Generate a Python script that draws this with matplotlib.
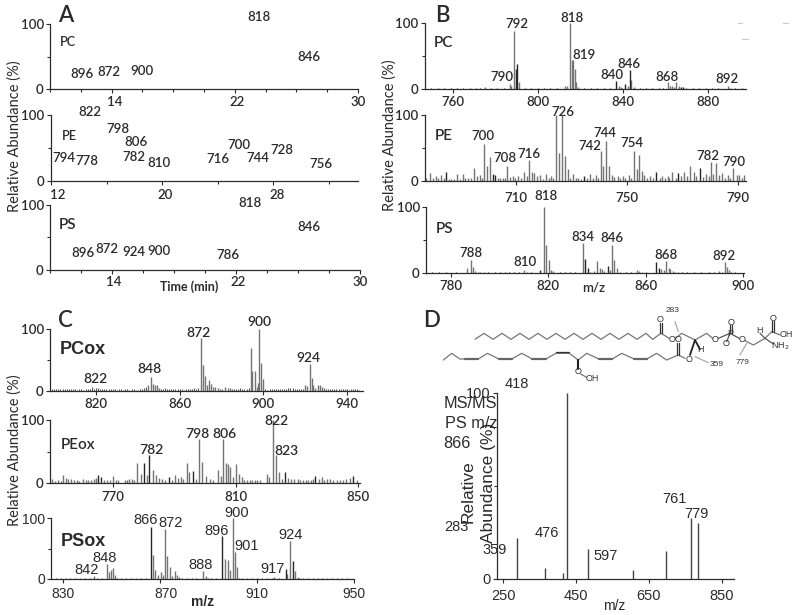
import matplotlib
matplotlib.use("Agg")
import matplotlib.pyplot as plt
from matplotlib.transforms import ScaledTranslation

W, H = 800, 615
CAL = "Lato"
ARI = "Liberation Sans"
INK = "#2b2b2b"
GRAY = "#747474"
DARK = "#262626"
LBL_W = "semibold"

# ---------- Panel A: retention-time labels (m/z, time, abundance) ----------
A1_labels = ["818", "846", "896", "872", "900"]
A1_time = [23.6, 26.8, 12.1, 13.8, 16.0]
A1_abund = [111, 49, 23, 26, 28]
A2_labels = ["822", "798", "806", "782", "810", "794", "778", "716", "700", "744", "728", "756"]
A2_time = [14.8, 16.8, 18.1, 18.0, 19.8, 12.9, 14.6, 24.0, 25.5, 26.9, 28.6, 31.4]
A2_abund = [105, 79, 59, 36, 27, 35, 30, 33, 55, 35, 47, 25]
A3_labels = ["818", "846", "896", "872", "924", "900", "786"]
A3_time = [22.9, 26.7, 12.1, 13.7, 15.4, 17.0, 21.5]
A3_abund = [103, 66, 26, 32, 28, 29, 23]

# ---------- Panel B ----------
B1_mz = [775.3, 786.9, 787.6, 789.0, 791.1, 812.8, 813.8, 815.2, 816.0, 816.6, 817.4, 818.2, 819.1,
         838.2, 839.1, 839.7, 842.3, 844.1, 845.1, 861.3, 862.3, 863.2, 864.2, 865.3, 866.4, 889.5, 890.5]
B1_ab = [3, 8, 5, 88, 11, 4, 5, 100, 44, 44, 30, 10, 3, 5, 3, 2, 4, 14, 3, 10, 5, 4, 3, 10, 5, 4, 2]
B1_k_mz = [789.7, 790.3, 836.9, 841.3, 843.2, 867.3, 868.2]
B1_k_ab = [30, 38, 12, 7, 29, 3, 3]
B1_noise = [750, 753, 756, 759, 762, 765, 768, 771, 773, 778, 781, 784, 794, 797, 800, 803, 806, 809,
            822, 825, 828, 831, 834, 848, 851, 854, 857, 859, 870, 873, 876, 879, 882, 885, 893, 896]
B1_labels = ["792", "818", "819", "790", "840", "846", "868", "892"]
B1_lx = [790.3, 816.3, 821.7, 783.0, 835.0, 842.9, 860.9, 888.9]
B1_ly = [98, 108, 52, 18, 21, 38, 18, 15]

B2_mz = [677.5, 678.7, 679.9, 680.9, 681.8, 682.9, 683.7, 685.7, 686.5, 687.5, 688.7, 689.5, 690.7, 691.4,
         692.5, 693.7, 694.8, 695.7, 696.7, 697.5, 698.5, 699.4, 700.5, 703.4, 704.2, 705.1, 705.8, 706.8,
         707.7, 708.7, 709.6, 710.6, 711.7, 712.8, 713.7, 714.6, 715.6, 716.5, 717.3, 718.5, 719.5, 720.7,
         721.9, 722.6, 723.4, 724.4, 725.5, 726.4, 727.5, 728.6, 729.4, 730.5, 731.5, 732.4, 733.5, 735.7,
         736.6, 737.7, 738.9, 739.6, 740.5, 741.4, 742.4, 743.6, 744.4, 745.4, 746.6, 747.6, 748.5, 749.4,
         750.6, 751.6, 752.4, 753.5, 754.4, 755.3, 756.3, 757.1, 758.3, 759.3, 761.9, 762.6, 763.7, 764.7,
         765.3, 766.4, 767.6, 769.4, 770.6, 771.6, 772.7, 774.1, 775.1, 777.6, 778.7, 779.5, 780.4, 781.2,
         782.3, 783.3, 784.5, 785.4, 786.4, 787.2, 788.4, 789.6, 790.6, 791.4, 792.4]
B2_ab = [5, 12, 5, 7, 5, 9, 5, 3, 3, 3, 10, 3, 10, 5,
         5, 5, 20, 7, 9, 5, 56, 22, 36, 4, 5, 5, 4, 23,
         6, 8, 4, 7, 4, 13, 7, 32, 13, 12, 7, 9, 3, 10,
         5, 8, 5, 100, 42, 100, 38, 18, 5, 11, 5, 5, 3, 4,
         11, 5, 9, 4, 45, 22, 60, 23, 9, 6, 8, 5, 8, 4,
         9, 5, 46, 18, 39, 15, 9, 5, 8, 5, 4, 8, 4, 7,
         5, 14, 4, 7, 14, 7, 22, 14, 7, 6, 10, 8, 29, 10,
         28, 9, 12, 5, 9, 5, 20, 9, 9, 5, 9]
B2_k_mz = [684.7, 701.5, 702.4, 734.6, 760.5, 768.4, 776.4]
B2_k_ab = [14, 10, 9, 7, 13, 12, 20]
B2_labels = ["726", "700", "708", "716", "742", "744", "754", "782", "790"]
B2_lx = [726.7, 697.9, 706.0, 714.6, 736.4, 741.8, 751.7, 779.4, 788.8]
B2_ly = [104, 68, 35, 41, 53, 72, 57, 38, 29]

B3_mz = [786.4, 788.4, 789.0, 790.0, 791.0, 792.0, 793.4, 810.1, 811.2, 818.4, 819.0, 820.3, 821.1, 821.9,
         834.2, 837.3, 838.6, 840.1, 841.1, 841.9, 842.9, 845.5, 846.3, 847.0, 848.2, 849.3, 856.4, 857.4,
         858.4, 866.3, 867.4, 868.5, 869.5, 870.1, 871.1, 872.1, 873.2, 890.4, 891.4, 892.7, 893.7, 894.5, 895.3]
B3_ab = [7, 20, 9, 3, 2, 2, 1, 4, 2, 100, 43, 20, 5, 3,
         45, 2, 3, 18, 8, 6, 3, 5, 42, 20, 7, 2, 5, 3,
         2, 6, 5, 18, 8, 6, 3, 2, 1, 3, 2, 16, 9, 5, 2]
B3_k_mz = [816.4, 835.3, 836.2, 844.4, 864.1, 865.5]
B3_k_ab = [5, 21, 7, 11, 16, 8]
B3_noise = [772, 775, 778, 782, 795, 798, 800, 802, 804, 806, 808, 813, 825, 827, 829, 831,
            852, 854, 860, 875, 877, 880, 883, 886, 888, 897]
B3_labels = ["818", "788", "810", "834", "846", "868", "892"]
B3_lx = [819.2, 788.3, 810.5, 834.1, 846.2, 868.4, 892.4]
B3_ly = [116, 30, 16, 55, 53, 28, 26]

# ---------- Panel C ----------
C1_mz = [845.0, 846.2, 847.1, 848.1, 849.0, 850.0, 870.1, 871.0, 872.0, 873.1, 874.1, 875.0, 876.0, 876.9,
         878.2, 879.3, 880.4, 881.9, 883.0, 884.1, 885.1, 894.0, 894.8, 896.1, 897.0, 897.7, 898.1, 899.1,
         900.1, 920.0, 920.8, 922.4, 923.2, 924.0, 924.8, 926.4, 927.3, 928.3, 929.2]
C1_ab = [10, 23, 11, 10, 9, 5, 85, 42, 24, 9, 18, 12, 7, 6,
         5, 4, 4, 6, 5, 5, 4, 70, 33, 32, 7, 13, 100, 45,
         19, 10, 8, 43, 21, 10, 5, 10, 9, 7, 5]
C1_noise_mz = [799, 800, 801, 802, 803, 804, 805, 806, 807, 808, 809, 810, 811, 812, 813, 814, 815, 816,
               817, 818, 819, 820, 821, 822, 823, 824, 825, 826, 827, 828, 829, 830, 831, 832, 833, 834,
               835, 836, 837, 838, 839, 840, 841, 842, 843, 844, 851, 852, 853, 854, 855, 856, 857, 858,
               859, 860, 861, 862, 863, 864, 865, 866, 867, 868, 869, 886, 887, 888, 889, 890, 891, 892,
               893, 901, 902, 903, 904, 905, 906, 907, 908, 909, 910, 911, 912, 913, 914, 915, 916, 917,
               918, 919, 930, 931, 932, 933, 934, 935, 936, 937, 938, 939, 940, 941, 942, 943, 944, 945, 946]
C1_noise_ab = [3, 4, 3, 3, 4, 3, 4, 3, 3, 4, 3, 3, 2, 3, 3, 2, 4, 3, 3, 7, 3, 5, 5, 4, 3, 3, 4, 4,
               3, 4, 3, 2, 4, 4, 2, 3, 3, 2, 3, 3, 2, 2, 3, 3, 5, 7, 4, 4, 5, 4, 3, 3, 4, 3,
               3, 4, 4, 2, 3, 3, 4, 3, 5, 4, 5, 4, 3, 3, 5, 3, 3, 4,
               5, 3, 2, 3, 3, 3, 3, 3, 4, 3, 3, 3, 5, 5, 5, 4, 3, 3,
               3, 4, 4, 3, 3, 3, 3, 4, 3, 3, 3, 3, 3, 2, 3, 3, 3, 3, 2]
C1_labels = ["822", "848", "872", "900", "924"]
C1_lx = [819.9, 845.8, 868.9, 898.1, 921.6]
C1_ly = [19, 35, 93, 112, 54]

C2_mz = [750.0, 751.1, 752.2, 753.0, 753.8, 754.6, 755.5, 756.3, 757.2, 758.2, 759.0, 760.2, 761.1, 762.0,
         762.8, 763.7, 764.5, 767.2, 768.0, 768.9, 769.9, 770.9, 771.7, 773.9, 774.7, 775.4, 776.3, 776.9,
         777.9, 779.0, 781.1, 783.0, 784.1, 785.0, 785.9, 786.9, 789.1, 790.2, 791.1, 792.1, 792.9, 794.0,
         794.9, 797.0, 798.0, 799.0, 800.2, 801.6, 802.7, 804.1, 805.1, 806.0, 806.8, 807.6, 808.2, 809.0,
         810.1, 811.0, 811.9, 812.7, 813.8, 814.6, 815.4, 816.3, 817.1, 817.9, 820.1, 820.9, 822.1, 823.0,
         824.2, 825.2, 827.0, 828.0, 829.1, 830.2, 831.0, 831.9, 832.8, 833.6, 834.5, 835.1, 837.1, 838.0,
         838.8, 839.9, 840.7, 841.8, 842.9, 843.9, 845.0, 846.1, 847.2, 849.4]
C2_ab = [6, 3, 4, 3, 12, 8, 7, 6, 5, 5, 3, 6, 5, 5,
         5, 6, 8, 5, 4, 4, 11, 5, 4, 5, 5, 6, 6, 4,
         31, 14, 13, 20, 12, 8, 6, 4, 5, 12, 8, 10, 6, 31,
         18, 7, 70, 33, 11, 7, 4, 21, 11, 70, 32, 30, 26, 9,
         30, 14, 9, 5, 5, 5, 4, 4, 5, 5, 15, 9, 100, 45,
         18, 7, 8, 6, 6, 7, 5, 5, 5, 5, 5, 6, 7, 10,
         5, 7, 6, 4, 5, 5, 4, 6, 8, 4]
C2_k_mz = [765.2, 766.1, 780.1, 781.9, 788.2, 796.2, 826.2, 836.0, 848.3]
C2_k_ab = [12, 10, 31, 44, 10, 19, 18, 11, 11]
C2_labels = ["782", "798", "806", "822", "823"]
C2_lx = [782.4, 797.5, 806.3, 823.4, 826.6]
C2_ly = [52, 78, 78, 98, 51]

C3_mz = [842.9, 848.0, 848.9, 849.8, 850.4, 851.3, 852.1, 867.2, 868.0, 869.1, 870.2, 871.2, 872.1, 872.9,
         873.9, 874.9, 876.0, 876.8, 877.7, 887.9, 888.8, 889.8, 896.9, 897.9, 898.7, 900.0, 900.9, 901.9,
         902.7, 917.2, 922.5, 923.8, 925.7, 926.8, 927.7]
C3_ab = [5, 24, 11, 15, 18, 6, 2, 40, 14, 6, 11, 7, 82, 38,
         19, 5, 13, 7, 3, 13, 5, 2, 33, 31, 15, 100, 45, 19,
         2, 3, 8, 63, 13, 4, 2]
C3_k_mz = [866.2, 895.7, 921.8, 924.9]
C3_k_ab = [85, 70, 16, 30]
C3_noise = [827, 829, 831, 833, 835, 837, 839, 841, 844, 846, 854, 856, 858, 860, 862, 864, 879, 881, 883,
            885, 891, 893, 904, 906, 908, 910, 912, 914, 916, 919, 929, 931, 933, 935, 937, 939, 941, 943, 945, 947]
C3_labels = ["842", "848", "866", "872", "896", "900", "901", "888", "917", "924"]
C3_lx = [839.6, 847.0, 864.0, 874.4, 893.2, 901.7, 905.8, 886.9, 916.5, 923.7]
C3_ly = [14, 34, 96, 91, 78, 108, 54, 23, 16, 72]

# ---------- Panel D ----------
D_mz = [289, 365, 414, 424, 483, 605, 698, 766, 784]
D_ab = [22, 6, 3, 100, 16, 5, 15, 33, 30]
D_labels = ["418", "283", "359", "476", "597", "761", "779"]
D_lx = [287.7, 122.6, 228.0, 370.0, 530.6, 718.5, 779.0]
D_ly = [105, 28, 15.6, 24.7, 12.5, 43, 35]

fig = plt.figure(figsize=(W / 100, H / 100), dpi=100, facecolor="white")


def make_ax(left, right, top, bottom, xlim, major, minor=None, family=CAL, fs=9.5, weight=LBL_W,
            xpad=2.0, xshift=None):
    ax = fig.add_axes([left / W, 1 - bottom / H, (right - left) / W, (bottom - top) / H])
    ax.set_xlim(*xlim)
    ax.set_ylim(0, 100)
    ax.patch.set_alpha(0)
    for s in ("top", "right"):
        ax.spines[s].set_visible(False)
    for s in ("left", "bottom"):
        ax.spines[s].set_color(INK)
        ax.spines[s].set_linewidth(0.9)
    ax.set_yticks([0, 100])
    ax.set_yticks([50], minor=True)
    ax.set_xticks(major)
    if minor is not None:
        ax.set_xticks(minor, minor=True)
    ax.tick_params(axis="both", which="major", length=3, width=0.8, color=INK, pad=1.5)
    ax.tick_params(axis="both", which="minor", length=2, width=0.8, color=INK)
    ax.tick_params(axis="x", which="major", pad=xpad)
    for lab in ax.get_xticklabels() + ax.get_yticklabels():
        lab.set_fontfamily(family)
        lab.set_fontsize(fs)
        lab.set_fontweight(weight)
        lab.set_color(INK)
    if xshift is not None:
        for lab, dx in zip(ax.get_xticklabels(), xshift):
            lab.set_transform(lab.get_transform() + ScaledTranslation(dx / 100, 0, fig.dpi_scale_trans))
    return ax


def peaks(ax, mz, ab, color=GRAY, lw=1.0):
    ax.vlines(mz, 0, ab, colors=color, linewidth=lw)


def labels(ax, txt, xs, ys, family=CAL, fs=9.5, weight=LBL_W):
    for t, x, y in zip(txt, xs, ys):
        ax.text(x, y, t, ha="center", va="center", family=family, fontsize=fs, weight=weight,
                color=INK, clip_on=False)


def ptext(px, py, s, fs=9.5, family=CAL, weight=LBL_W, rotation=0, color=INK):
    fig.text(px / W, 1 - py / H, s, ha="center", va="center", fontsize=fs, family=family,
             weight=weight, rotation=rotation, color=color)


# Panel A
tA13 = [14, 22, 30]
mA13 = [10, 12, 16, 18, 20, 24, 26, 28]
axA1 = make_ax(50, 358, 24, 89, (10, 30), tA13, mA13, xpad=1.8, xshift=[3, 2, 0])
labels(axA1, A1_labels, A1_time, A1_abund)
axA2 = make_ax(51, 358, 115.5, 180.5, (12, 34.1), [12, 20, 28], [16, 24, 32], xpad=2.9, xshift=[7, 3, 4])
labels(axA2, A2_labels, A2_time, A2_abund)
axA3 = make_ax(50, 360, 205, 270, (10, 30), tA13, mA13, xpad=1.1, xshift=[2, 2, 0])
labels(axA3, A3_labels, A3_time, A3_abund)

# Panel B
axB1 = make_ax(425, 746, 23, 89, (747, 898), [760, 800, 840, 880], xpad=1.8)
peaks(axB1, B1_noise, [1] * len(B1_noise), DARK, 0.8)
peaks(axB1, B1_mz, B1_ab)
peaks(axB1, B1_k_mz, B1_k_ab, DARK)
labels(axB1, B1_labels, B1_lx, B1_ly)
axB2 = make_ax(425, 746, 115, 181, (677, 793), [710, 750, 790], xpad=4.7)
peaks(axB2, B2_mz, B2_ab)
peaks(axB2, B2_k_mz, B2_k_ab, DARK)
labels(axB2, B2_labels, B2_lx, B2_ly)
axB3 = make_ax(426, 744, 207, 273, (769.7, 900.5), [780, 820, 860, 900], xpad=1.8)
peaks(axB3, B3_noise, [1] * len(B3_noise), DARK, 0.8)
peaks(axB3, B3_mz, B3_ab)
peaks(axB3, B3_k_mz, B3_k_ab, DARK)
labels(axB3, B3_labels, B3_lx, B3_ly)

# Panel C
axC1 = make_ax(50, 363, 329, 391, (798, 947.7), [820, 860, 900, 940], xpad=1.8)
peaks(axC1, C1_noise_mz, C1_noise_ab, "#555555", 0.8)
peaks(axC1, C1_mz, C1_ab)
labels(axC1, C1_labels, C1_lx, C1_ly, fs=10)
axC2 = make_ax(50, 360, 420, 483, (749.5, 850.5), [770, 810, 850], xpad=2.5)
peaks(axC2, C2_mz, C2_ab)
peaks(axC2, C2_k_mz, C2_k_ab, DARK)
labels(axC2, C2_labels, C2_lx, C2_ly, fs=10)
axC3 = make_ax(51, 354, 518, 579, (825, 950), [830, 870, 910, 950], family=ARI, fs=10, weight="normal",
               xpad=2.5, xshift=[0, 6, 0, 0])
peaks(axC3, C3_noise, [1.5] * len(C3_noise), "#555555", 0.8)
peaks(axC3, C3_mz, C3_ab)
peaks(axC3, C3_k_mz, C3_k_ab, DARK)
labels(axC3, C3_labels, C3_lx, C3_ly, family=ARI, fs=10.5, weight="normal")

# Panel D
axD = make_ax(497, 734, 393, 579, (233.5, 883), [250, 450, 650, 850], family=ARI, fs=10.5, weight="normal",
              xpad=4)
peaks(axD, D_mz, D_ab, "#444444", 1.0)
labels(axD, D_labels, D_lx, D_ly, family=ARI, fs=10.5, weight="normal")

# Texts placed on the figure
for x, y in [(15, 136), (390, 135), (15, 450)]:
    ptext(x, y, "Relative Abundance (%)", fs=10.5, rotation=90, weight="normal")
for s, x, y in [("A", 66, 15), ("B", 442, 15), ("C", 65, 320), ("D", 432, 320)]:
    ptext(x, y, s, fs=16)
for s, x, y, f in [("PC", 68, 42, 9), ("PE", 69, 136, 9), ("PS", 68, 225, 11),
                   ("PC", 443, 43, 11), ("PE", 444, 136, 11), ("PS", 444, 229, 11)]:
    ptext(x, y, s, fs=f)
ptext(189, 287, "Time (min)", fs=9, weight="bold")
ptext(594, 287, "m/z", fs=9.5)
ptext(203, 602, "m/z", fs=10, family=ARI, weight="bold")
ptext(614, 606, "m/z", fs=10, family=ARI, weight="normal")
ptext(83, 349, "PCox", fs=13, family=ARI, weight="bold")
ptext(78, 445, "PEox", fs=11)
ptext(83, 541, "PSox", fs=13, family=ARI, weight="bold")
ptext(470, 403, "MS/MS", fs=11.7, family=ARI, weight="normal")
ptext(471, 423, "PS m/z", fs=11.7, family=ARI, weight="normal")
ptext(457, 443, "866", fs=11.7, family=ARI, weight="normal")
ptext(468, 492, "Relative", fs=12.5, family=ARI, rotation=90, weight="normal")
ptext(488, 483, "Abundance (%)", fs=12.5, family=ARI, rotation=90, weight="normal")

# Lipid structure sketch (an illustration above panel D, not chart data)
ov = fig.add_axes([0, 0, 1, 1], facecolor="none")
ov.set_xlim(0, W)
ov.set_ylim(H, 0)
ov.axis("off")
SK = "#777777"


def z(zx, zy):
    return 400 + zx / 3, 300 + zy / 3


def poly(pts, color=SK, lw=0.9):
    xy = [z(*p) for p in pts]
    ov.plot([p[0] for p in xy], [p[1] for p in xy], color=color, lw=lw, solid_capstyle="round")


top_chain = [(225, 118), (252, 100), (279, 118), (306, 100), (333, 118), (360, 100), (387, 118), (414, 100),
             (441, 118), (468, 100), (495, 118), (522, 100), (549, 118), (576, 100), (603, 118), (630, 100),
             (657, 118), (684, 100), (711, 118), (738, 100), (758, 118), (783, 100), (808, 115)]
poly(top_chain)
poly([(780, 100), (780, 68)], "#333333")
poly([(786, 100), (786, 68)], "#333333")
poly([(825, 115), (845, 100), (885, 120), (920, 100), (938, 115)])
poly([(955, 115), (990, 100), (1018, 115)], "#555555")
poly([(990, 100), (990, 75)], "#333333")
poly([(996, 100), (996, 75)], "#333333")
poly([(990, 100), (980, 125)], "#555555")
poly([(1035, 122), (1060, 135), (1095, 115), (1115, 95), (1140, 105)])
poly([(1115, 95), (1115, 62)], "#333333")
poly([(1121, 95), (1121, 62)], "#333333")
poly([(1095, 115), (1120, 132)], "#555555")
poly([(1095, 115), (1080, 100)], "#555555")
low_chain = [(130, 180), (155, 160), (180, 177), (195, 177), (235, 177), (262, 160), (297, 177), (335, 177),
             (365, 160), (397, 177), (437, 177), (468, 160), (508, 160), (535, 180), (560, 160), (597, 177),
             (637, 177), (665, 160), (703, 177), (740, 177), (770, 160), (800, 180), (835, 165), (855, 175)]
poly(low_chain)
for a, b, c in [(195, 235, 177), (297, 335, 177), (397, 437, 177), (597, 637, 177), (703, 740, 177)]:
    poly([(a, c), (b, c)], "#666666", 1.6)
poly([(468, 156), (508, 156)], "#333333")
poly([(832, 165), (832, 130)], "#333333")
poly([(838, 165), (838, 130)], "#333333")
poly([(870, 165), (885, 120), (900, 148)], "#222222", 1.3)
poly([(535, 180), (535, 208)], "#222222", 1.5)
poly([(542, 222), (560, 232)])
poly([(825, 65), (835, 95)], "#aaaaaa")
poly([(885, 170), (925, 188)], "#aaaaaa")
poly([(1040, 130), (1020, 165)], "#aaaaaa")
for s, zx, zy, f in [("283", 817, 30, 6), ("359", 950, 192, 6), ("779", 1026, 188, 6), ("O", 781, 58, 6.5),
                     ("O", 815, 117, 6.5), ("O", 835, 120, 6.5), ("O", 867, 178, 6.5), ("O", 945, 118, 6.5),
                     ("P", 990, 100, 6.5), ("O", 993, 68, 6.5), ("O", 978, 132, 6.5), ("O", 1026, 118, 6.5),
                     ("O", 1118, 55, 6.5), ("OH", 1158, 103, 6.5), ("NH$_2$", 1140, 138, 6.5), ("H", 1078, 92, 6.5),
                     ("H", 903, 150, 6.5), ("O", 535, 215, 6.5), ("OH", 578, 235, 6.5)]:
    x, y = z(zx, zy)
    ov.text(x, y, s, ha="center", va="center", fontsize=f, family=ARI, color="#333333")

# faint specks near the top right corner of the reference image
for a, b, c in [(738, 742, 23), (783, 788, 23), (742, 748, 39)]:
    ov.plot([a, b], [c, c], color="#cccccc", lw=0.8)

fig.savefig("out.png", dpi=100)
